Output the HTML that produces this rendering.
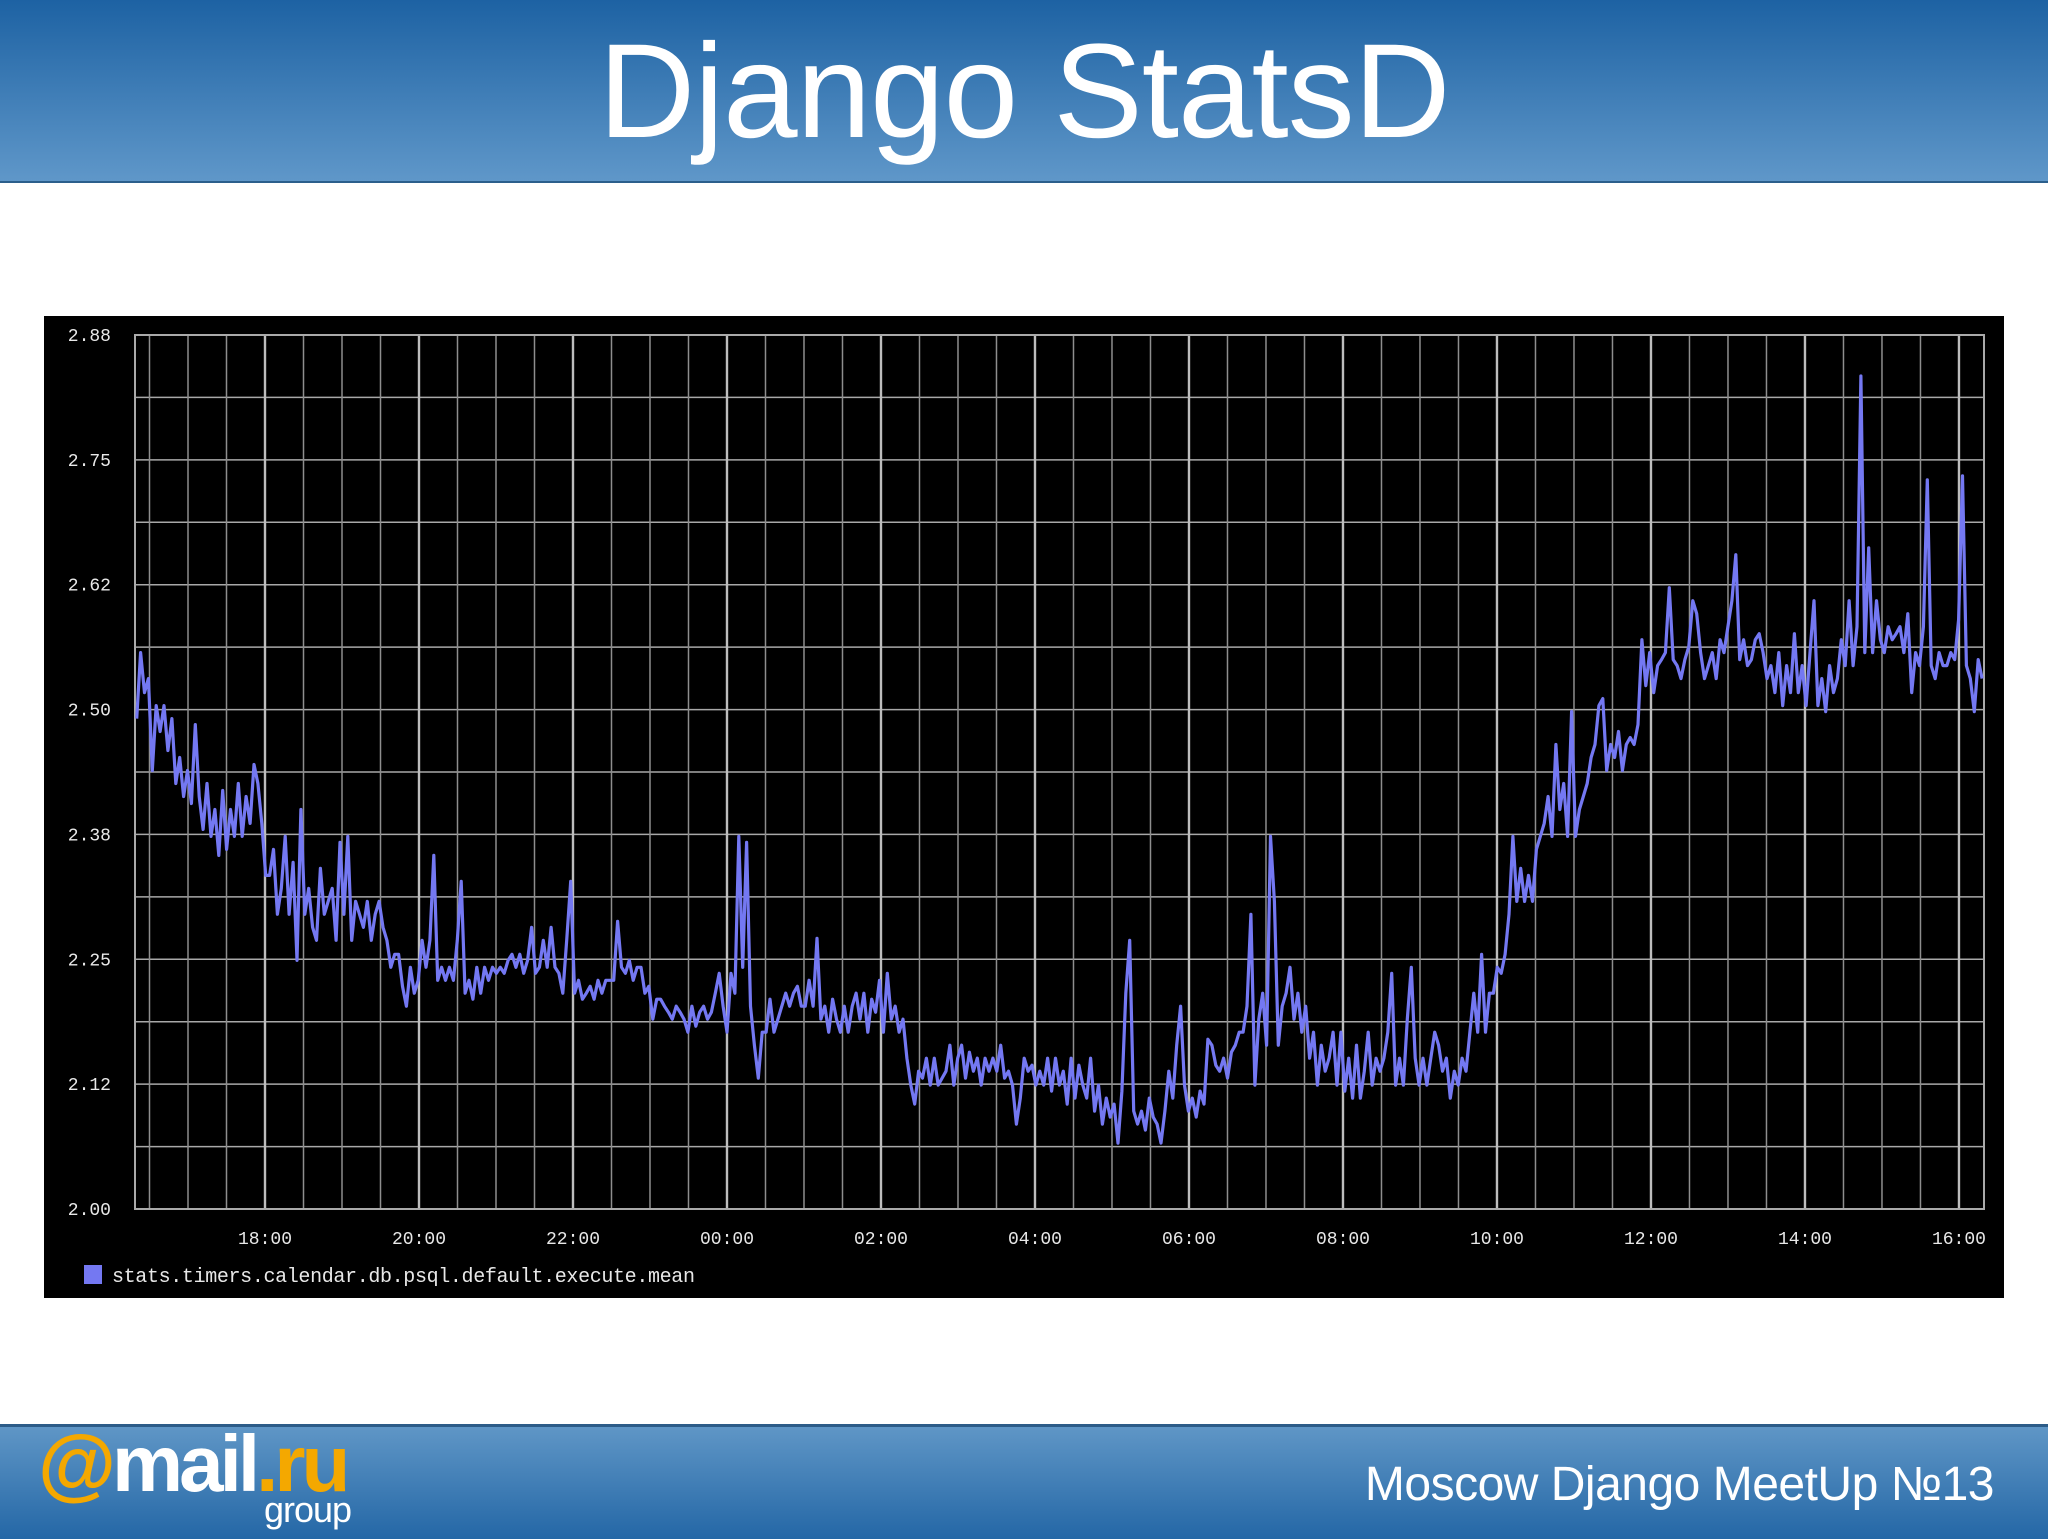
<!DOCTYPE html>
<html><head><meta charset="utf-8"><style>
html,body{margin:0;padding:0;width:2048px;height:1536px;overflow:hidden;background:#fff;font-family:"Liberation Sans",sans-serif}
#hdr{position:absolute;left:0;top:0;width:2048px;height:181px;background:linear-gradient(#1d62a3,#5f97c9);border-bottom:2px solid #2b5f8c}
#title{position:absolute;left:0;width:2048px;top:12px;text-align:center;color:#fff;font-size:134px;line-height:160px;letter-spacing:-1px}
#ftr{position:absolute;left:0;top:1424px;width:2048px;height:112px;background:linear-gradient(#5f96c6,#2467a6);border-top:3px solid #2c5c88}
#meet{position:absolute;right:54px;top:30px;color:#fff;font-size:48px;letter-spacing:-0.5px}
#logo{position:absolute;left:38px;top:-8px;font-size:80px;font-weight:bold;color:#fff;letter-spacing:-4px;line-height:90px}
#logo .o{color:#f4a800}
#grp{position:absolute;left:264px;top:62px;font-size:36px;color:#fff;letter-spacing:-1px}
#chart{position:absolute;left:44px;top:316px}
</style></head><body>
<div id="hdr"><div id="title">Django StatsD</div></div>
<svg id="chart" width="1960" height="982"></svg>
<div id="ftr">
<div id="logo"><span class="o">@</span>mail<span class="o">.ru</span></div>
<div id="grp">group</div>
<div id="meet">Moscow Django MeetUp №13</div>
</div>
<script>
const values=[2.491,2.557,2.517,2.531,2.439,2.504,2.478,2.504,2.459,2.491,2.426,2.452,2.413,2.439,2.406,2.485,2.413,2.380,2.426,2.373,2.400,2.354,2.419,2.360,2.400,2.373,2.426,2.373,2.413,2.386,2.445,2.426,2.386,2.334,2.334,2.360,2.295,2.321,2.373,2.295,2.347,2.249,2.400,2.295,2.321,2.282,2.269,2.341,2.295,2.308,2.321,2.269,2.367,2.295,2.373,2.269,2.308,2.295,2.282,2.308,2.269,2.295,2.308,2.282,2.269,2.242,2.255,2.255,2.223,2.203,2.242,2.216,2.229,2.269,2.242,2.269,2.354,2.229,2.242,2.229,2.242,2.229,2.269,2.328,2.216,2.229,2.210,2.242,2.216,2.242,2.229,2.242,2.236,2.242,2.236,2.249,2.255,2.242,2.255,2.236,2.249,2.282,2.236,2.242,2.269,2.242,2.282,2.242,2.236,2.216,2.269,2.328,2.216,2.229,2.210,2.216,2.223,2.210,2.229,2.216,2.229,2.229,2.229,2.288,2.242,2.236,2.249,2.229,2.242,2.242,2.216,2.223,2.190,2.210,2.210,2.203,2.197,2.190,2.203,2.197,2.190,2.177,2.203,2.183,2.197,2.203,2.190,2.197,2.216,2.236,2.203,2.177,2.236,2.216,2.373,2.242,2.367,2.203,2.164,2.131,2.177,2.177,2.210,2.177,2.190,2.203,2.216,2.203,2.216,2.223,2.203,2.203,2.229,2.203,2.271,2.190,2.203,2.177,2.210,2.190,2.177,2.203,2.177,2.203,2.216,2.190,2.216,2.177,2.210,2.197,2.229,2.177,2.236,2.190,2.203,2.177,2.190,2.151,2.124,2.105,2.138,2.131,2.151,2.124,2.151,2.124,2.131,2.138,2.164,2.124,2.151,2.164,2.131,2.157,2.138,2.151,2.124,2.151,2.138,2.151,2.138,2.164,2.131,2.138,2.124,2.085,2.111,2.151,2.138,2.144,2.124,2.138,2.124,2.151,2.118,2.151,2.124,2.138,2.105,2.151,2.111,2.144,2.124,2.111,2.151,2.098,2.124,2.085,2.111,2.092,2.105,2.066,2.118,2.216,2.269,2.098,2.085,2.098,2.079,2.111,2.092,2.085,2.066,2.098,2.138,2.111,2.164,2.203,2.124,2.098,2.111,2.092,2.118,2.105,2.170,2.164,2.144,2.138,2.151,2.131,2.157,2.164,2.177,2.177,2.203,2.295,2.124,2.190,2.216,2.164,2.373,2.308,2.164,2.203,2.216,2.242,2.190,2.216,2.177,2.203,2.151,2.177,2.124,2.164,2.138,2.151,2.177,2.124,2.177,2.118,2.151,2.111,2.164,2.111,2.138,2.177,2.124,2.151,2.138,2.151,2.177,2.236,2.124,2.151,2.124,2.190,2.242,2.151,2.124,2.151,2.124,2.151,2.177,2.164,2.138,2.151,2.111,2.138,2.124,2.151,2.138,2.177,2.216,2.177,2.255,2.177,2.216,2.216,2.242,2.236,2.255,2.295,2.373,2.308,2.341,2.308,2.334,2.308,2.360,2.373,2.386,2.413,2.373,2.465,2.400,2.426,2.373,2.498,2.373,2.400,2.413,2.426,2.452,2.465,2.504,2.511,2.439,2.465,2.452,2.478,2.439,2.465,2.472,2.465,2.485,2.570,2.524,2.557,2.517,2.544,2.550,2.557,2.622,2.550,2.544,2.531,2.550,2.563,2.609,2.596,2.557,2.531,2.544,2.557,2.531,2.570,2.557,2.583,2.609,2.655,2.550,2.570,2.544,2.550,2.570,2.576,2.557,2.531,2.544,2.517,2.557,2.504,2.544,2.517,2.576,2.517,2.544,2.504,2.557,2.609,2.504,2.531,2.498,2.544,2.517,2.531,2.570,2.544,2.609,2.544,2.583,2.834,2.557,2.662,2.557,2.609,2.570,2.557,2.583,2.570,2.576,2.583,2.557,2.596,2.517,2.557,2.544,2.583,2.730,2.544,2.531,2.557,2.544,2.544,2.557,2.550,2.590,2.734,2.544,2.531,2.498,2.550,2.531];
const yTicks=[2.0,2.125,2.25,2.375,2.5,2.625,2.75,2.875];
const yTickLabels=["2.00","2.12","2.25","2.38","2.50","2.62","2.75","2.88"];
const xTickHours=[18,20,22,24,26,28,30,32,34,36,38,40];
const xTickLabels=["18:00","20:00","22:00","00:00","02:00","04:00","06:00","08:00","10:00","12:00","14:00","16:00"];
const seriesName="stats.timers.calendar.db.psql.default.execute.mean";
const startHour=16+20/60, spanHours=1438/60;
const xMin=16+18.7/60, xMax=40+19.5/60, yMin=2.0, yMax=2.875;

const NS="http://www.w3.org/2000/svg";
const svg=document.getElementById('chart');
const OX=44,OY=316;
const L=135-OX,R=1984-OX,T=335-OY,B=1209-OY;
const xs=h=>L+(h-xMin)/(xMax-xMin)*(R-L);
const ys=v=>B-(v-yMin)/(yMax-yMin)*(B-T);
function mk(t,a){const e=document.createElementNS(NS,t);for(const k in a)e.setAttribute(k,a[k]);svg.appendChild(e);return e;}
const bg=mk('rect',{x:0,y:0,width:1960,height:982,fill:'#000'});


for(let i=0;i<=14;i++){const v=yMin+i*(yMax-yMin)/14;const y=ys(v);
 const l=mk('line',{x1:L,x2:R,y1:y,y2:y,stroke:'#a8a8a8','stroke-width':1.5});
 
 }
for(let h=Math.ceil(xMin*2)/2;h<=xMax;h+=0.5){const x=xs(h);const major=Math.abs(h/2-Math.round(h/2))<1e-6;
 const l=mk('line',{x1:x,x2:x,y1:T,y2:B,stroke:major?'#bdbdbd':'#8e8e8e','stroke-width':major?2.4:1.5});
 
 }
const fr=mk('rect',{x:L,y:T,width:R-L,height:B-T,fill:'none',stroke:'#aaa','stroke-width':2});


yTicks.forEach((v,i)=>{const t=mk('text',{x:L-24,y:ys(v)+6,'text-anchor':'end',fill:'#e8e8e8','font-size':18,'font-family':'Liberation Mono, monospace'});t.textContent=yTickLabels[i];
 
 });
xTickHours.forEach((h,i)=>{const t=mk('text',{x:xs(h),y:928,'text-anchor':'middle',fill:'#e8e8e8','font-size':18,'font-family':'Liberation Mono, monospace'});t.textContent=xTickLabels[i];
 
 });
const n=values.length;
const pts=values.map((v,i)=>xs(startHour+i*spanHours/(n-1)).toFixed(1)+','+ys(v).toFixed(1)).join(' ');
const pl=mk('polyline',{points:pts,fill:'none',stroke:'#7478f2','stroke-width':3.2,'stroke-linejoin':'round'});


const sw=mk('rect',{x:40,y:949,width:18,height:19,fill:'#7478f2'});


const lt=mk('text',{x:68,y:966,fill:'#e8e8e8','font-size':20,'font-family':'Liberation Mono, monospace','letter-spacing':'-0.35'});lt.textContent=seriesName;


</script>
</body></html>
